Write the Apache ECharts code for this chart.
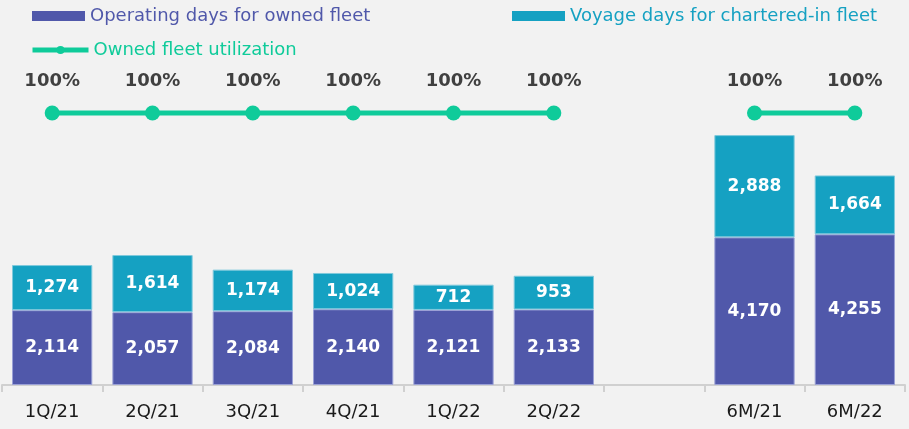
<!DOCTYPE html>
<html>
<head>
<meta charset="utf-8" />
<script src="https://cdn.jsdelivr.net/npm/echarts@6/dist/echarts.min.js"></script>
<style>
  html, body { margin: 0; padding: 0; background: #f2f2f2; }
  #main { width: 909px; height: 429px; }
</style>
</head>
<body>
<div id="main"></div>
<script type="text/javascript">
// data
var categories = ['1Q/21', '2Q/21', '3Q/21', '4Q/21', '1Q/22', '2Q/22', '', '6M/21', '6M/22'];
var ownedDays = [2114, 2057, 2084, 2140, 2121, 2133, '-', 4170, 4255];
var charteredDays = [1274, 1614, 1174, 1024, 712, 953, '-', 2888, 1664];
var utilization = [100, 100, 100, 100, 100, 100, null, 100, 100];

var fontName = 'DejaVu Sans';
var blue = '#5058aa';
var cyan = '#15a1c2';
var green = '#0fcb9a';

var myChart = echarts.init(document.getElementById('main'));

var barLabel = {
    show: true,
    position: 'inside',
    color: '#ffffff',
    fontFamily: fontName,
    fontWeight: 'bold',
    fontSize: 17,
    formatter: function (p) { return p.value.toLocaleString('en-US'); }
};

option = {
    backgroundColor: '#f2f2f2',
    animation: false,
    textStyle: { fontFamily: fontName },
    legend: [
        {
            data: ['Operating days for owned fleet'],
            left: 27, top: 2,
            icon: 'rect', itemWidth: 53, itemHeight: 10, itemGap: 6,
            itemStyle: { borderWidth: 0 },
            textStyle: { color: blue, fontSize: 18, fontFamily: fontName }
        },
        {
            data: ['Voyage days for chartered-in fleet'],
            left: 507, top: 2,
            icon: 'rect', itemWidth: 53, itemHeight: 10, itemGap: 6,
            itemStyle: { borderWidth: 0 },
            textStyle: { color: cyan, fontSize: 18, fontFamily: fontName }
        },
        {
            data: ['Owned fleet utilization'],
            left: 25, top: 36,
            itemWidth: 56, itemHeight: 10, itemGap: 5,
            lineStyle: { width: 5 },
            textStyle: { color: green, fontSize: 18, fontFamily: fontName }
        }
    ],
    grid: { left: 2, right: 4, top: 100, bottom: 44, containLabel: false },
    xAxis: {
        type: 'category',
        data: categories,
        axisLine: { lineStyle: { color: '#d0d0d0', width: 2 } },
        axisTick: { show: true, interval: 0, length: 7, lineStyle: { color: '#d0d0d0', width: 2 } },
        axisLabel: { interval: 0, color: '#1a1a1a', fontSize: 18, margin: 18, fontFamily: fontName }
    },
    yAxis: [
        { type: 'value', min: 0, max: 8050, show: false, splitLine: { show: false } },
        { type: 'value', min: 0, max: 104.8, show: false, splitLine: { show: false } }
    ],
    series: [
        {
            name: 'Operating days for owned fleet',
            type: 'bar',
            stack: 'days',
            barWidth: '80%',
            data: ownedDays,
            itemStyle: { color: blue, borderColor: '#9aa0d6', borderWidth: 1 },
            label: barLabel
        },
        {
            name: 'Voyage days for chartered-in fleet',
            type: 'bar',
            stack: 'days',
            barWidth: '80%',
            data: charteredDays,
            itemStyle: { color: cyan, borderColor: '#7fc9dc', borderWidth: 1 },
            label: barLabel
        },
        {
            name: 'Owned fleet utilization',
            type: 'line',
            yAxisIndex: 1,
            data: utilization,
            connectNulls: false,
            symbol: 'circle',
            symbolSize: 15,
            lineStyle: { color: green, width: 5 },
            itemStyle: { color: green },
            label: {
                show: true,
                position: 'top',
                distance: 15,
                color: '#404040',
                fontWeight: 'bold',
                fontSize: 18,
                fontFamily: fontName,
                formatter: '{c}%'
            }
        }
    ]
};
myChart.setOption(option);
</script>
</body>
</html>
